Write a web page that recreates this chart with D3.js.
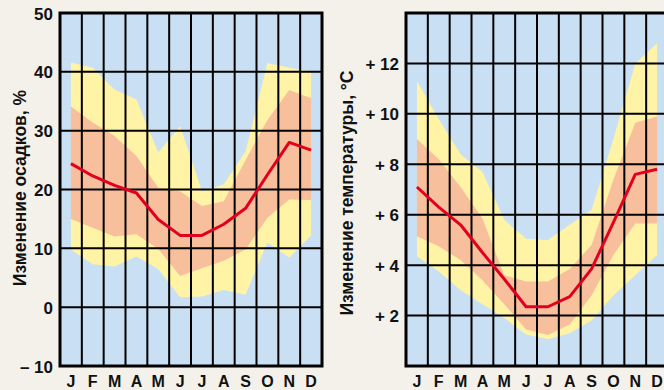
<!DOCTYPE html>
<html>
<head>
<meta charset="utf-8">
<script src="https://cdn.jsdelivr.net/npm/d3@7"></script>
<style>
    body { margin: 0; background: #f4f1ea; }
    svg { display: block; font-family: "Liberation Sans", Arial, sans-serif; font-weight: bold; }
</style>
</head>
<body>
<div id="chart"></div>
<script>
const months = ["J", "F", "M", "A", "M", "J", "J", "A", "S", "O", "N", "D"];

// precipitation change, %
const precipYellowHigh = [41.6, 40.7, 37.0, 35.3, 26.3, 30.8, 19.7, 20.9, 26.5, 41.5, 40.7, 40.1];
const precipSalmonHigh = [34.1, 31.4, 29.1, 25.7, 20.3, 19.7, 17.2, 18.0, 25.0, 31.8, 36.9, 35.5];
const precipMean       = [24.4, 22.3, 20.7, 19.4, 14.9, 12.2, 12.2, 14.1, 16.8, 22.5, 28.0, 26.7];
const precipSalmonLow  = [15.0, 13.5, 12.0, 12.4, 9.9, 5.3, 6.6, 7.9, 9.8, 15.2, 18.3, 18.2];
const precipYellowLow  = [9.8, 7.3, 6.9, 8.6, 6.5, 1.7, 1.8, 2.9, 2.1, 11.0, 8.4, 12.2];
const precipTicks = [-10, 0, 10, 20, 30, 40, 50];
const precipTickLabels = ["\u2013 10", "0", "10", "20", "30", "40", "50"];

// temperature change, °C
const tempYellowHigh = [11.3, 9.8, 8.4, 7.7, 5.8, 5.05, 5.0, 5.6, 6.2, 9.0, 12.0, 12.8];
const tempSalmonHigh = [9.0, 8.2, 7.1, 5.85, 3.6, 3.35, 3.35, 3.85, 4.8, 7.4, 9.65, 9.9];
const tempMean       = [7.1, 6.3, 5.6, 4.5, 3.45, 2.35, 2.35, 2.75, 3.85, 5.7, 7.6, 7.8];
const tempSalmonLow  = [5.15, 4.75, 4.2, 3.4, 2.45, 1.45, 1.23, 1.65, 2.8, 4.4, 5.65, 5.65];
const tempYellowLow  = [4.35, 3.75, 3.0, 2.45, 1.9, 1.25, 1.06, 1.3, 1.8, 2.8, 3.6, 4.4];
const tempTicks = [2, 4, 6, 8, 10, 12];
const tempTickLabels = ["+ 2", "+ 4", "+ 6", "+ 8", "+ 10", "+ 12"];

const W = 664, H = 390;
const svg = d3.select("#chart").append("svg")
    .attr("width", W)
    .attr("height", H);

function drawPanel(opt) {
    const x = d3.scaleBand()
        .domain(d3.range(12))
        .range([opt.left, opt.left + 262])
        .paddingInner(0).paddingOuter(0);
    const y = d3.scaleLinear()
        .domain(opt.domain)
        .range([366, 13]);
    const cx = i => x(i) + x.bandwidth() / 2;

    const g = svg.append("g");

    const clipId = "clip" + opt.left;
    g.append("clipPath").attr("id", clipId)
        .append("rect")
            .attr("x", opt.left).attr("y", 13)
            .attr("width", 262).attr("height", 353);

    g.append("rect")
        .attr("x", opt.left).attr("y", 13)
        .attr("width", 262).attr("height", 353)
        .attr("fill", "#c9dff3");

    const plot = g.append("g").attr("clip-path", `url(#${clipId})`);

    const band = (lo, hi) => d3.area()
        .x((d, i) => cx(i))
        .y0((d, i) => y(lo[i]))
        .y1((d, i) => y(hi[i]));

    plot.append("path")
        .datum(opt.yHigh)
        .attr("fill", "#fff3a6")
        .attr("d", band(opt.yLow, opt.yHigh));

    plot.append("path")
        .datum(opt.sHigh)
        .attr("fill", "#f8bf9c")
        .attr("d", band(opt.sLow, opt.sHigh));

    // grid
    plot.selectAll(".vgrid")
        .data(d3.range(1, 12))
        .enter()
        .append("line")
            .attr("x1", d => x(d)).attr("x2", d => x(d))
            .attr("y1", 13).attr("y2", 366)
            .attr("stroke", "#000")
            .attr("stroke-width", 2);

    plot.selectAll(".hgrid")
        .data(opt.grid)
        .enter()
        .append("line")
            .attr("x1", opt.left).attr("x2", opt.left + 262)
            .attr("y1", d => y(d)).attr("y2", d => y(d))
            .attr("stroke", "#000")
            .attr("stroke-width", 2);

    plot.append("path")
        .datum(opt.mean)
        .attr("fill", "none")
        .attr("stroke", "#e2001e")
        .attr("stroke-width", 3)
        .attr("stroke-linejoin", "round")
        .attr("d", d3.line().x((d, i) => cx(i)).y(d => y(d)));

    g.append("rect")
        .attr("x", opt.left).attr("y", 13)
        .attr("width", 262).attr("height", 353)
        .attr("fill", "none")
        .attr("stroke", "#000")
        .attr("stroke-width", 3);

    // axes
    const yAxis = g.append("g")
        .attr("transform", `translate(${opt.left - 7},0)`)
        .call(d3.axisLeft(y)
            .tickValues(opt.ticks)
            .tickSize(0)
            .tickFormat((d, i) => opt.tickLabels[i]));
    yAxis.select(".domain").remove();
    yAxis.selectAll("text")
        .attr("x", 0)
        .attr("dy", "0.36em")
        .style("font-size", "17px")
        .style("font-family", "'Liberation Sans', Arial, sans-serif")
        .style("font-weight", "bold")
        .attr("fill", "#111");

    const xAxis = g.append("g")
        .attr("transform", "translate(0,366)")
        .call(d3.axisBottom(x)
            .tickSize(0)
            .tickFormat(i => months[i]));
    xAxis.select(".domain").remove();
    xAxis.selectAll("text")
        .attr("y", 10)
        .attr("dy", "0.71em")
        .style("font-size", "16px")
        .style("font-family", "'Liberation Sans', Arial, sans-serif")
        .style("font-weight", "bold")
        .attr("fill", "#111");

    g.append("text")
        .attr("transform", `translate(${opt.titleX},${opt.titleY}) rotate(-90)`)
        .attr("text-anchor", "middle")
        .attr("dy", "0.35em")
        .style("font-size", "17.5px")
        .attr("fill", "#111")
        .text(opt.title);
}

drawPanel({
    left: 60,
    domain: [-10, 50],
    grid: [0, 10, 20, 30, 40],
    ticks: precipTicks,
    tickLabels: precipTickLabels,
    yHigh: precipYellowHigh, sHigh: precipSalmonHigh, mean: precipMean,
    sLow: precipSalmonLow, yLow: precipYellowLow,
    title: "Изменение осадков, %",
    titleX: 20, titleY: 188
});

drawPanel({
    left: 406,
    domain: [0, 14],
    grid: [2, 4, 6, 8, 10, 12],
    ticks: tempTicks,
    tickLabels: tempTickLabels,
    yHigh: tempYellowHigh, sHigh: tempSalmonHigh, mean: tempMean,
    sLow: tempSalmonLow, yLow: tempYellowLow,
    title: "Изменение температуры, °C",
    titleX: 347, titleY: 193
});
</script>
</body>
</html>
